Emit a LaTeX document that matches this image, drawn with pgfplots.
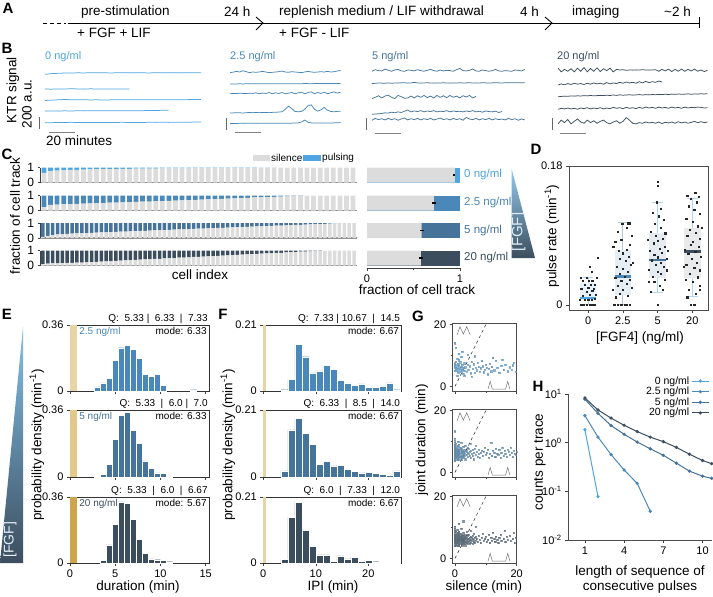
\documentclass[border=0pt]{standalone}
\usepackage{fontspec}
\setmainfont{Liberation Sans}
\usepackage{pgfplots}
\pgfplotsset{compat=1.18}
\usepackage{pgfplotstable}
\usepgfplotslibrary{statistics}
\definecolor{c0}{HTML}{4EA5DF}
\definecolor{c25}{HTML}{4A88B9}
\definecolor{c5}{HTML}{46739A}
\definecolor{c20}{HTML}{3C4E5E}
\definecolor{sil}{HTML}{DCDCDC}
\definecolor{tan1}{HTML}{E9D5A4}
\definecolor{tan2}{HTML}{E2C88A}
\definecolor{tan3}{HTML}{CFA44A}
\definecolor{ax}{HTML}{404040}
\newcommand\fL{\fontsize{13.5}{15}\selectfont}
\newcommand\fT{\fontsize{11}{12}\selectfont}
\newcommand\fS{\fontsize{10}{11}\selectfont}
\newcommand\fP{\fontsize{15}{17}\selectfont\bfseries}
\pgfplotsset{
 myax/.style={scale only axis, anchor=south west, axis line style={ax, line width=0.6pt},
   tick style={ax, line width=0.6pt}, tick align=outside, major tick length=3pt, minor tick length=2pt,
   tick label style={font=\fT}, /pgf/number format/assume math mode=true},
 tr/.style={line width=0.75pt},
}
\tikzset{gic/.style={black!55, line width=0.5pt}}
% ---------- B traces (t in min, signal in a.u. above each trace's own baseline)
\pgfplotstableread{
t a b c d e
0 -15 0 -8 0 -3
5 -5 -3 -2 2 0
10 0 2 3 -2 4
15 5 0 8 3 2
20 4 4 5 0 6
25 8 1 2 4 3
30 6 -2 4 2 5
35 10 3 1 5 2
40 7 0 3 3 4
45 9 2 0 6 3
50 6 -1 2 4 5
55 8 2 4 3 4
60 10 1 3 5 6
65 7 0 5 4 3
70 9 nan 4 6 5
75 8 nan 6 5 4
80 6 nan 3 8 6
85 9 nan 5 6 5
90 7 nan 4 12 7
95 8 nan 6 10 5
100 10 nan 5 nan 8
105 7 nan 3 nan 6
110 9 nan 6 nan 8
115 8 nan 8 nan 10
120 10 nan 10 nan 12
}\Bz
\pgfplotstableread{
t a b c d e
0 0 0 0 0 0
2.5 8 2 5 2 2
5 20 0 2 5 0
7.5 10 3 8 3 3
10 30 1 5 0 2
12.5 15 4 3 5 5
15 0 2 10 8 3
17.5 10 3 5 5 4
20 5 2 15 10 2
22.5 10 5 0 5 5
25 20 3 10 8 3
27.5 10 4 5 10 4
30 0 2 20 5 5
32.5 5 5 0 10 3
35 10 4 15 12 5
37.5 15 3 5 15 4
40 25 5 20 20 6
42.5 10 4 0 60 5
45 5 6 10 110 4
47.5 15 5 20 70 6
50 10 4 0 25 8
52.5 5 6 15 20 10
55 0 5 25 25 25
57.5 10 7 0 60 55
60 20 6 20 115 20
62.5 10 5 30 130 10
65 5 7 0 60 8
67.5 10 6 20 30 10
70 15 8 5 50 6
72.5 10 7 25 90 8
75 20 6 0 45 10
77.5 10 8 15 25 8
80 15 7 30 20 10
82.5 25 8 10 25 12
85 35 10 25 30 15
}\Btf
\pgfplotstableread{
t a b c d e
0 0 0 0 0 0
2.5 25 5 20 5 30
5 10 10 45 10 10
7.5 5 8 10 15 25
10 35 5 40 25 5
12.5 15 12 55 20 30
15 0 6 20 35 10
17.5 20 10 0 25 25
20 30 8 50 40 0
22.5 5 12 30 30 20
25 0 15 5 50 35
27.5 20 8 10 70 5
30 15 10 40 40 25
32.5 5 20 10 55 10
35 25 12 45 45 30
37.5 10 8 20 60 5
40 0 10 50 40 25
42.5 15 15 15 55 10
45 30 10 40 45 30
47.5 10 8 10 60 5
50 0 12 50 40 20
52.5 20 10 20 50 35
55 5 14 45 45 10
57.5 15 10 15 60 25
60 10 8 50 40 5
62.5 0 12 20 55 30
65 25 10 40 45 10
67.5 45 14 10 50 25
70 10 10 45 40 0
72.5 5 12 25 55 45
75 15 15 50 45 20
77.5 35 10 10 60 10
80 5 12 35 40 30
82.5 0 10 nan 50 5
85 20 14 nan 35 25
87.5 10 12 nan 55 10
90 0 10 nan 45 30
92.5 10 12 nan 40 5
95 30 15 nan 50 25
97.5 5 12 nan 30 10
100 0 10 nan 45 20
102.5 10 14 nan nan 5
105 5 12 nan nan 30
107.5 0 15 nan nan 10
110 20 12 nan nan 25
112.5 15 14 nan nan 0
115 5 12 nan nan 20
117.5 30 16 nan nan 5
}\Bf
\pgfplotstableread{
t a b c d e
0 60 0 0 0 0
2.5 0 20 5 15 60
5 40 5 10 5 20
7.5 10 25 8 20 70
10 50 10 12 5 0
12.5 0 30 10 15 40
15 60 15 15 0 80
17.5 10 25 12 20 30
20 70 10 18 10 10
22.5 0 30 14 25 60
25 55 15 20 5 20
27.5 10 35 15 20 50
30 65 20 18 10 10
32.5 5 30 22 25 40
35 50 15 18 5 60
37.5 20 40 25 20 20
40 60 20 20 10 0
42.5 0 35 28 30 30
45 40 25 22 15 50
47.5 30 45 30 25 10
50 35 30 25 10 40
52.5 25 50 28 30 100
55 30 35 32 15 60
57.5 28 45 26 25 10
60 32 30 30 10 0
62.5 30 55 35 30 20
65 35 35 28 15 10
67.5 30 60 34 35 30
70 28 40 30 20 15
72.5 30 55 36 30 25
75 35 45 32 15 10
77.5 10 65 38 35 30
80 40 50 34 20 5
82.5 15 nan 40 30 25
85 45 nan 36 15 15
87.5 5 nan 42 35 30
90 40 nan 38 20 10
92.5 10 nan 44 30 35
95 45 nan 40 15 15
97.5 10 nan 42 35 30
100 40 nan 46 20 10
102.5 15 nan 40 30 25
105 45 nan 45 25 40
107.5 10 nan 42 35 20
110 30 nan 48 30 35
112.5 5 nan 44 20 20
115 25 nan 50 25 30
}\Btw
% ---------- C: pulsing fraction per cell
\pgfplotstableread[row sep=\\]{i p\\1 0.35\\2 0.22\\3 0.20\\4 0.18\\5 0.16\\6 0.15\\7 0.14\\8 0.13\\9 0.12\\10 0.11\\11 0.10\\12 0.10\\13 0.09\\14 0.09\\15 0.08\\16 0.08\\17 0.07\\18 0.07\\19 0.06\\20 0.06\\21 0.05\\22 0.05\\23 0.05\\24 0.04\\25 0.04\\26 0.04\\27 0.03\\28 0.03\\29 0.03\\30 0.02\\31 0.02\\32 0.02\\33 0.02\\34 0.01\\35 0.01\\36 0.01\\37 0\\38 0\\39 0\\40 0\\41 0\\42 0\\43 0\\44 0\\45 0\\46 0\\47 0\\48 0\\}\Ca
\pgfplotstableread[row sep=\\]{i p\\1 0.78\\2 0.62\\3 0.60\\4 0.58\\5 0.57\\6 0.55\\7 0.54\\8 0.52\\9 0.51\\10 0.50\\11 0.48\\12 0.47\\13 0.45\\14 0.44\\15 0.42\\16 0.41\\17 0.40\\18 0.38\\19 0.37\\20 0.35\\21 0.34\\22 0.32\\23 0.30\\24 0.29\\25 0.27\\26 0.25\\27 0.24\\28 0.22\\29 0.20\\30 0.19\\31 0.17\\32 0.15\\33 0.13\\34 0.12\\35 0.10\\36 0.09\\37 0.07\\38 0.06\\39 0.04\\40 0.03\\41 0\\42 0\\43 0\\44 0\\45 0\\46 0\\47 0\\48 0\\}\Cb
\pgfplotstableread[row sep=\\]{i p\\1 0.92\\2 0.85\\3 0.80\\4 0.76\\5 0.74\\6 0.72\\7 0.70\\8 0.69\\9 0.68\\10 0.67\\11 0.65\\12 0.64\\13 0.63\\14 0.62\\15 0.60\\16 0.59\\17 0.58\\18 0.57\\19 0.55\\20 0.54\\21 0.53\\22 0.52\\23 0.50\\24 0.49\\25 0.48\\26 0.47\\27 0.45\\28 0.44\\29 0.43\\30 0.42\\31 0.40\\32 0.39\\33 0.38\\34 0.37\\35 0.35\\36 0.34\\37 0.33\\38 0.32\\39 0.30\\40 0.29\\41 0.28\\42 0.27\\43 0.25\\44 0.24\\45 0.23\\46 0.22\\47 0.20\\48 0.19\\49 0.18\\50 0.17\\51 0.15\\52 0.14\\53 0.13\\54 0.12\\55 0.10\\56 0.09\\57 0.08\\58 0.07\\59 0.05\\60 0.04\\61 0.03\\62 0.02\\63 0\\64 0\\65 0\\}\Cc
\pgfplotstableread[row sep=\\]{i p\\1 0.90\\2 0.88\\3 0.86\\4 0.85\\5 0.84\\6 0.83\\7 0.82\\8 0.81\\9 0.80\\10 0.79\\11 0.77\\12 0.75\\13 0.74\\14 0.72\\15 0.71\\16 0.69\\17 0.67\\18 0.66\\19 0.64\\20 0.63\\21 0.61\\22 0.59\\23 0.58\\24 0.56\\25 0.55\\26 0.53\\27 0.51\\28 0.50\\29 0.48\\30 0.47\\31 0.45\\32 0.43\\33 0.42\\34 0.40\\35 0.39\\36 0.37\\37 0.35\\38 0.34\\39 0.32\\40 0.31\\41 0.29\\42 0.27\\43 0.26\\44 0.24\\45 0.23\\46 0.21\\47 0.19\\48 0.18\\49 0.16\\50 0.15\\51 0.13\\52 0.11\\53 0.10\\54 0.08\\55 0.07\\56 0.05\\57 0.03\\58 0.02\\59 0\\60 0\\61 0\\62 0\\63 0\\64 0\\65 0\\}\Cd
\begin{document}
\begin{tikzpicture}[x=1pt,y=1pt]
\path[use as bounding box] (0,0) rectangle (713,-597);
% ---------------- panel letters
\node[font=\fP] at (8,-8) {A};
\node[font=\fP] at (7,-48) {B};
\node[font=\fP] at (7,-154) {C};
\node[font=\fP] at (536,-149) {D};
\node[font=\fP] at (7,-314) {E};
\node[font=\fP] at (223,-314) {F};
\node[font=\fP] at (418,-316) {G};
\node[font=\fP] at (538,-386) {H};
% ---------------- A timeline
\draw[line width=0.9pt, dash pattern=on 4pt off 3pt] (43,-23) -- (66,-23);
\draw[line width=0.9pt] (68,-23) -- (699,-23);
\draw[line width=0.9pt] (699,-17) -- (699,-28);
\draw[line width=0.9pt] (256,-17) -- (263,-23) -- (256,-30);
\draw[line width=0.9pt] (545,-17) -- (552,-23) -- (545,-30);
\begin{scope}[every node/.style={font=\fL, anchor=west, inner sep=0pt}]
\node at (81,-12) {pre-stimulation};
\node at (77,-33) {+ FGF + LIF};
\node at (224,-12) {24 h};
\node at (279,-12) {replenish medium / LIF withdrawal};
\node at (279,-33) {+ FGF - LIF};
\node at (520,-12) {4 h};
\node at (572,-12) {imaging};
\node at (664,-12) {\textasciitilde2 h};
\end{scope}
% ---------------- B traces
\node[font=\fL, rotate=90] at (13,-90) {KTR signal};
\node[font=\fL, rotate=90] at (27,-104) {200 a.u.};
\node[font=\fL, anchor=west, inner sep=0pt] at (46,-141) {20 minutes};
\node[font=\fT, text=c0, anchor=west, inner sep=0pt] at (45,-57) {0 ng/ml};
\node[font=\fT, text=c25, anchor=west, inner sep=0pt] at (230,-57) {2.5 ng/ml};
\node[font=\fT, text=c5, anchor=west, inner sep=0pt] at (372,-57) {5 ng/ml};
\node[font=\fT, text=c20, anchor=west, inner sep=0pt] at (557,-57) {20 ng/ml};
\begin{axis}[scale only axis, anchor=south west, width=156pt, height=75pt, at={(45pt,-132pt)}, xmin=0, xmax=120, ymin=0, ymax=1200, hide axis, clip=false, unbounded coords=jump]
\addplot[c0, tr] table[x=t, y expr=\thisrow{a}+939] {\Bz};
\addplot[c0, tr] table[x=t, y expr=\thisrow{b}+688] {\Bz};
\addplot[c0, tr] table[x=t, y expr=\thisrow{c}+512] {\Bz};
\addplot[c0, tr] table[x=t, y expr=\thisrow{d}+336] {\Bz};
\addplot[c0, tr] table[x=t, y expr=\thisrow{e}+149] {\Bz};
\draw[black!60, line width=0.9pt] (axis cs:-4.6,48) -- (axis cs:-4.6,248);
\draw[black!50, line width=0.9pt] (axis cs:3,-4) -- (axis cs:23,-4);
\end{axis}
\begin{axis}[scale only axis, anchor=south west, width=156pt, height=75pt, at={(230pt,-132pt)}, xmin=0, xmax=120, ymin=0, ymax=1200, hide axis, clip=false, unbounded coords=jump]
\addplot[c25, tr] table[x=t, y expr=\thisrow{a}+950] {\Btf};
\addplot[c25, tr] table[x=t, y expr=\thisrow{b}+768] {\Btf};
\addplot[c25, tr] table[x=t, y expr=\thisrow{c}+612] {\Btf};
\addplot[c25, tr] table[x=t, y expr=\thisrow{d}+304] {\Btf};
\addplot[c25, tr] table[x=t, y expr=\thisrow{e}+136] {\Btf};
\draw[black!60, line width=0.9pt] (axis cs:-3,32) -- (axis cs:-3,232);
\draw[black!50, line width=0.9pt] (axis cs:4,-4) -- (axis cs:24,-4);
\end{axis}
\begin{axis}[scale only axis, anchor=south west, width=156pt, height=75pt, at={(372pt,-132pt)}, xmin=0, xmax=120, ymin=0, ymax=1200, hide axis, clip=false, unbounded coords=jump]
\addplot[c5, tr] table[x=t, y expr=\thisrow{a}+972] {\Bf};
\addplot[c5, tr] table[x=t, y expr=\thisrow{b}+774] {\Bf};
\addplot[c5, tr] table[x=t, y expr=\thisrow{c}+535] {\Bf};
\addplot[c5, tr] table[x=t, y expr=\thisrow{d}+282] {\Bf};
\addplot[c5, tr] table[x=t, y expr=\thisrow{e}+188] {\Bf};
\draw[black!60, line width=0.9pt] (axis cs:-4,32) -- (axis cs:-4,232);
\draw[black!50, line width=0.9pt] (axis cs:2.3,-16) -- (axis cs:22.3,-16);
\end{axis}
\begin{axis}[scale only axis, anchor=south west, width=156pt, height=75pt, at={(558pt,-132pt)}, xmin=0, xmax=120, ymin=0, ymax=1200, hide axis, clip=false, unbounded coords=jump]
\addplot[c20, tr] table[x=t, y expr=\thisrow{a}+962] {\Btw};
\addplot[c20, tr] table[x=t, y expr=\thisrow{b}+750] {\Btw};
\addplot[c20, tr] table[x=t, y expr=\thisrow{c}+564] {\Btw};
\addplot[c20, tr] table[x=t, y expr=\thisrow{d}+364] {\Btw};
\addplot[c20, tr] table[x=t, y expr=\thisrow{e}+130] {\Btw};
\draw[black!60, line width=0.9pt] (axis cs:-4,32) -- (axis cs:-4,232);
\draw[black!50, line width=0.9pt] (axis cs:1.5,-16) -- (axis cs:21.5,-16);
\end{axis}
% ---------------- C left
\node[font=\fL, rotate=90] at (15,-216) {fraction of cell track};
\node[font=\fL] at (200,-275) {cell index};
\fill[sil] (253,-155) rectangle (270,-161);
\node[font=\fS, anchor=west, inner sep=1pt] at (270,-157.5) {silence};
\fill[c0] (303,-155) rectangle (321,-161);
\node[font=\fS, anchor=west, inner sep=1pt] at (321,-157.5) {pulsing};
\pgfplotsset{crow/.style={myax, width=317pt, height=15pt, ymin=0, ymax=1, ytick={0,1}, yticklabels={0,1}, xtick=\empty, axis x line*=bottom, axis y line*=left, x axis line style={black!45, line width=1.2pt}, ybar stacked, bar width=0.72, yticklabel style={font=\fontsize{12}{12}\selectfont}, major tick length=2.5pt}}
\begin{axis}[crow, at={(40pt,-182.5pt)}, xmin=0.4, xmax=48.6]
\addplot[fill=sil, draw=none] table[x=i, y expr=1-\thisrow{p}] {\Ca};
\addplot[fill=c0, draw=none] table[x=i, y=p] {\Ca};
\end{axis}
\begin{axis}[crow, at={(40pt,-210.5pt)}, xmin=0.4, xmax=48.6]
\addplot[fill=sil, draw=none] table[x=i, y expr=1-\thisrow{p}] {\Cb};
\addplot[fill=c25, draw=none] table[x=i, y=p] {\Cb};
\end{axis}
\begin{axis}[crow, at={(40pt,-238pt)}, xmin=0.4, xmax=65.6]
\addplot[fill=sil, draw=none] table[x=i, y expr=1-\thisrow{p}] {\Cc};
\addplot[fill=c5, draw=none] table[x=i, y=p] {\Cc};
\end{axis}
\begin{axis}[crow, at={(40pt,-265.5pt)}, xmin=0.4, xmax=65.6]
\addplot[fill=sil, draw=none] table[x=i, y expr=1-\thisrow{p}] {\Cd};
\addplot[fill=c20, draw=none] table[x=i, y=p] {\Cd};
\end{axis}
% ---------------- C right
\begin{axis}[myax, at={(367pt,-268pt)}, width=93pt, height=103pt, xmin=0, xmax=1, ymin=-268, ymax=-165,
  axis x line*=bottom, axis y line=none, xtick={0,1}, xticklabels={0,1}, minor xtick={0.5}, clip=false]
\addplot[xbar, bar shift=0pt, bar width=15, fill=c0, draw=none] coordinates {(1,-175)};
\addplot[xbar, bar shift=0pt, bar width=15, fill=c25, draw=none] coordinates {(1,-203)};
\addplot[xbar, bar shift=0pt, bar width=15, fill=c5, draw=none] coordinates {(1,-230.5)};
\addplot[xbar, bar shift=0pt, bar width=15, fill=c20, draw=none] coordinates {(1,-258)};
\addplot[xbar, bar shift=0pt, bar width=15, fill=sil, draw=none] coordinates {(0.946,-175) (0.72,-203) (0.588,-230.5) (0.58,-258)};
\addplot[draw=none, mark=none, error bars/.cd, x dir=both, x explicit, error mark=none, error bar style={black, line width=1.8pt}] coordinates {(0.935,-175) +- (0.008,0) (0.72,-203) +- (0.022,0) (0.588,-230.5) +- (0.022,0) (0.58,-258) +- (0.022,0)};
\end{axis}
\node[font=\fL] at (417,-290) {fraction of cell track};
\begin{scope}[every node/.style={font=\fontsize{11.5}{12}\selectfont, anchor=west, inner sep=0pt}]
\node[text=c0] at (464,-175) {0 ng/ml};
\node[text=c25] at (464,-203) {2.5 ng/ml};
\node[text=c5] at (464,-230.5) {5 ng/ml};
\node[text=c20] at (464,-258) {20 ng/ml};
\end{scope}
\shade[top color=c0!60, bottom color=c20] (511.7,-169) -- (511.7,-258) -- (535,-258) -- cycle;
\node[font=\fontsize{15}{16}\selectfont, rotate=90, text=white!80!c0] at (518.5,-232) {[FGF]};
% ---------------- D
\node[font=\fL, rotate=90] at (552,-236) {pulse rate (min\textsuperscript{-1})};
\node[font=\fL] at (640,-338) {[FGF4] (ng/ml)};
\begin{axis}[myax, at={(569pt,-310pt)}, width=139pt, height=144pt, xmin=-0.55, xmax=3.45, ymin=-0.0065, ymax=0.18,
  xtick={0,1,2,3}, xticklabels={0,2.5,5,20}, ytick={0,0.18}, yticklabels={0,0.18}, xtick pos=left, ytick pos=left, axis line style={black!70},
  boxplot/draw direction=y]
\addplot[boxplot prepared={draw position=0, lower whisker=0, lower quartile=0.0065, median=0.009, upper quartile=0.0285, upper whisker=0.035, box extend=0.48, whisker extend=0.3, every box/.style={fill=c0!14, draw=none}, every median/.style={draw=c0, line width=2.6pt}, every whisker/.style={c0!45, line width=1pt}}] coordinates {};
\addplot[boxplot prepared={draw position=1, lower whisker=0, lower quartile=0.013, median=0.0367, upper quartile=0.071, upper whisker=0.1066, box extend=0.48, whisker extend=0.3, every box/.style={fill=c25!14, draw=none}, every median/.style={draw=c25, line width=2.6pt}, every whisker/.style={c25!45, line width=1pt}}] coordinates {};
\addplot[boxplot prepared={draw position=2, lower whisker=0.0164, lower quartile=0.0346, median=0.0583, upper quartile=0.0937, upper whisker=0.133, box extend=0.48, whisker extend=0.3, every box/.style={fill=c5!14, draw=none}, every median/.style={draw=c5, line width=2.6pt}, every whisker/.style={c0!45, line width=1pt}}] coordinates {};
\addplot[boxplot prepared={draw position=3, lower whisker=0.0107, lower quartile=0.035, median=0.069, upper quartile=0.1, upper whisker=0.138, box extend=0.48, whisker extend=0.3, every box/.style={fill=c20!12, draw=none}, every median/.style={draw=c20, line width=2.6pt}, every whisker/.style={c0!45, line width=1pt}}] coordinates {};
\addplot[only marks, mark=square*, mark size=0.6pt, black!85] coordinates {
(-0.2,0) (-0.12,0) (-0.05,0) (0.05,0) (0.12,0) (0.2,0) (-0.18,0) (0.15,0) (-0.25,0.007) (-0.1,0.007) (0,0.007) (0.1,0.007) (0.18,0.008) (-0.15,0.012) (0.05,0.013) (0.22,0.013) (-0.05,0.017) (0.12,0.018) (-0.2,0.021) (0,0.022) (0.15,0.021) (-0.1,0.026) (0.08,0.026) (0.2,0.026) (-0.15,0.031) (0.02,0.031) (0.12,0.031) (-0.05,0.035) (0.1,0.043) (0.28,0.061) (-0.22,0.035) (0.25,0.035) (0.05,0.05)
(0.75,0) (0.85,0) (0.95,0) (1.05,0) (1.12,0) (1.2,0) (0.8,0.01) (1.15,0.012) (0.9,0.015) (1,0.02) (1.25,0.022) (0.85,0.025) (1.1,0.028) (0.95,0.031) (1.2,0.033) (0.78,0.035) (1.05,0.037) (0.9,0.04) (1.15,0.043) (1,0.047) (0.82,0.05) (1.22,0.052) (1.08,0.057) (0.92,0.06) (1.17,0.063) (1,0.067) (0.88,0.07) (1.1,0.072) (0.72,0.075) (1.2,0.078) (0.95,0.085) (1.25,0.09) (0.85,0.095) (1.1,0.1) (0.98,0.105) (1.2,0.106) (1.15,0.106) (0.78,0.082) (1.28,0.055) (0.7,0.02)
(2,0) (1.8,0.017) (2.15,0.02) (2.05,0.025) (1.9,0.03) (2.2,0.033) (1.85,0.037) (2.1,0.04) (2,0.043) (1.75,0.046) (2.18,0.05) (1.95,0.052) (2.08,0.055) (1.82,0.058) (2.25,0.06) (2,0.062) (1.9,0.065) (2.12,0.068) (1.78,0.07) (2.05,0.073) (2.2,0.076) (1.88,0.08) (2,0.083) (2.15,0.086) (1.95,0.09) (2.22,0.093) (1.8,0.095) (2.08,0.1) (1.92,0.105) (2.18,0.11) (2.02,0.115) (1.85,0.12) (2.1,0.125) (1.97,0.133) (2,0.16) (2,0.155) (1.75,0.03) (2.25,0.045) (1.72,0.085) (2.28,0.07)
(2.95,0) (3.05,0) (2.85,0.01) (3.1,0.015) (2.9,0.02) (3.2,0.025) (3,0.03) (2.8,0.033) (3.15,0.036) (2.92,0.04) (3.22,0.045) (3.05,0.048) (2.82,0.052) (3.12,0.055) (2.98,0.06) (3.25,0.063) (2.88,0.066) (3.08,0.069) (2.78,0.072) (3.18,0.075) (2.95,0.078) (3.02,0.082) (3.2,0.086) (2.85,0.09) (3.1,0.094) (2.92,0.098) (3.15,0.102) (3,0.108) (2.82,0.112) (3.2,0.118) (3.05,0.123) (2.9,0.128) (3.12,0.133) (2.95,0.138) (3.18,0.14) (2.85,0.142) (3.08,0.145) (3.22,0.02) (2.75,0.05) (3.28,0.1)};
\end{axis}
% ---------------- E
\shade[top color=c0!70, bottom color=c20] (23,-327) -- (23,-563) -- (0,-563) -- cycle;
\node[font=\fontsize{14}{15}\selectfont, rotate=90, text=white!85!c0] at (10,-540) {[FGF]};
\node[font=\fL, rotate=90] at (37,-445) {probability density (min\textsuperscript{-1})};
\node[font=\fL] at (138,-587) {duration (min)};
\pgfplotsset{hist/.style={myax, xtick pos=left, ytick pos=left, axis line style={black!80}, clip=false}}
\begin{axis}[hist, at={(70pt,-391pt)}, width=139.3pt, height=66pt, xmin=0, xmax=15.4, ymin=0, ymax=0.36, ytick={0,0.36}, yticklabels={0,0.36}, xtick={0,5,10,15}, xticklabels={}]
\addplot[fill=tan1, draw=none] coordinates {(0,0) (0.74,0) (0.74,0.36) (0,0.36)} -- cycle;
\addplot[ybar, bar width=0.667, bar shift=0pt, fill=c25, draw=white, line width=0.4pt] coordinates {(3,0.022) (3.667,0.044) (4.333,0.068) (5,0.168) (5.667,0.236) (6.333,0.25) (7,0.227) (7.667,0.177) (8.333,0.091) (9,0.08) (9.667,0.091) (10.333,0.031) (13.667,0.007)};
\node[font=\fS, anchor=south east, inner sep=1.5pt] at (rel axis cs:1,1) {Q:~~5.33 |~~6.33~~|~~7.33};
\node[font=\fS, anchor=north east, inner sep=2.5pt] at (rel axis cs:1,1) {mode: 6.33};
\node[font=\fS, text=c25, anchor=north west, inner sep=2.5pt] at (axis cs:0.74,0.36) {2.5 ng/ml};
\end{axis}
\begin{axis}[hist, at={(70pt,-477pt)}, width=139.3pt, height=67pt, xmin=0, xmax=15.4, ymin=0, ymax=0.36, ytick={0,0.36}, yticklabels={0,0.36}, xtick={0,5,10,15}, xticklabels={}]
\addplot[fill=tan2, draw=none] coordinates {(0,0) (0.74,0) (0.74,0.36) (0,0.36)} -- cycle;
\addplot[ybar, bar width=0.667, bar shift=0pt, fill=c5, draw=white, line width=0.4pt] coordinates {(3,0.004) (3.667,0.014) (4.333,0.068) (5,0.202) (5.667,0.333) (6.333,0.346) (7,0.252) (7.667,0.18) (8.333,0.086) (9,0.045) (9.667,0.022) (10.333,0.018) (11,0.005)};
\node[font=\fS, anchor=south east, inner sep=1.5pt] at (rel axis cs:1,1) {Q:~~5.33~~|~~6.0 |~~7.0};
\node[font=\fS, anchor=north east, inner sep=2.5pt] at (rel axis cs:1,1) {mode: 6.33};
\node[font=\fS, text=c5, anchor=north west, inner sep=2.5pt] at (axis cs:0.74,0.36) {5 ng/ml};
\end{axis}
\begin{axis}[hist, at={(70pt,-563pt)}, width=139.3pt, height=66pt, xmin=0, xmax=15.4, ymin=0, ymax=0.36, ytick={0,0.36}, yticklabels={0,0.36}, xtick={0,5,10,15}, xticklabels={0,5,10,15}]
\addplot[fill=tan3, draw=none] coordinates {(0,0) (0.74,0) (0.74,0.36) (0,0.36)} -- cycle;
\addplot[ybar, bar width=0.667, bar shift=0pt, fill=c20, draw=white, line width=0.4pt] coordinates {(3.667,0.013) (4.333,0.099) (5,0.212) (5.667,0.333) (6.333,0.324) (7,0.238) (7.667,0.13) (8.333,0.054) (9,0.022) (9.667,0.018) (10.333,0.014) (11,0.007)};
\node[font=\fS, anchor=south east, inner sep=1.5pt] at (rel axis cs:1,1) {Q:~~5.33~~|~~6.0~~|~~6.67};
\node[font=\fS, anchor=north east, inner sep=2.5pt] at (rel axis cs:1,1) {mode: 5.67};
\node[font=\fS, text=c20, anchor=north west, inner sep=2.5pt] at (axis cs:0.74,0.36) {20 ng/ml};
\end{axis}
% ---------------- F
\node[font=\fL, rotate=90] at (228,-445) {probability density (min\textsuperscript{-1})};
\node[font=\fL] at (333,-587) {IPI (min)};
\begin{axis}[hist, at={(263.3pt,-391pt)}, width=138.4pt, height=66pt, xmin=0, xmax=26.35, ymin=0, ymax=0.21, ytick={0,0.21}, yticklabels={0,0.21}, xtick={0,10,20}, xticklabels={}]
\addplot[fill=tan1, draw=none] coordinates {(0,0) (0.5,0) (0.5,0.21) (0,0.21)} -- cycle;
\addplot[ybar, bar width=1.333, bar shift=0pt, fill=c25, draw=white, line width=0.4pt] coordinates {(4,0.004) (5.333,0.036) (6.667,0.148) (8,0.109) (9.333,0.058) (10.667,0.064) (12,0.082) (13.333,0.069) (14.667,0.034) (16,0.026) (17.333,0.018) (18.667,0.023) (20,0.011) (21.333,0.011) (22.667,0.015) (24,0.026) (25.333,0.004)};
\node[font=\fS, anchor=south east, inner sep=1.5pt] at (rel axis cs:1,1) {Q:~~7.33 | 10.67~~|~~14.5};
\node[font=\fS, anchor=north east, inner sep=2.5pt] at (rel axis cs:1,1) {mode: 6.67};
\end{axis}
\begin{axis}[hist, at={(263.3pt,-477pt)}, width=138.4pt, height=67pt, xmin=0, xmax=26.35, ymin=0, ymax=0.21, ytick={0,0.21}, yticklabels={0,0.21}, xtick={0,10,20}, xticklabels={}]
\addplot[fill=tan1, draw=none] coordinates {(0,0) (0.5,0) (0.5,0.21) (0,0.21)} -- cycle;
\addplot[ybar, bar width=1.333, bar shift=0pt, fill=c5, draw=white, line width=0.4pt] coordinates {(4,0.019) (5.333,0.148) (6.667,0.183) (8,0.137) (9.333,0.102) (10.667,0.04) (12,0.048) (13.333,0.035) (14.667,0.037) (16,0.024) (17.333,0.017) (18.667,0.013) (20,0.014) (21.333,0.011) (22.667,0.008) (24,0.006) (25.333,0.019)};
\node[font=\fS, anchor=south east, inner sep=1.5pt] at (rel axis cs:1,1) {Q:~~6.33~~|~~8.5~~|~~14.0};
\node[font=\fS, anchor=north east, inner sep=2.5pt] at (rel axis cs:1,1) {mode: 6.67};
\end{axis}
\begin{axis}[hist, at={(263.3pt,-563pt)}, width=138.4pt, height=66pt, xmin=0, xmax=26.35, ymin=0, ymax=0.21, ytick={0,0.21}, yticklabels={0,0.21}, xtick={0,10,20}, xticklabels={0,10,20}]
\addplot[fill=tan1, draw=none] coordinates {(0,0) (0.5,0) (0.5,0.21) (0,0.21)} -- cycle;
\addplot[ybar, bar width=1.333, bar shift=0pt, fill=c20, draw=white, line width=0.4pt] coordinates {(4,0.011) (5.333,0.145) (6.667,0.194) (8,0.105) (9.333,0.0525) (10.667,0.026) (12,0.026) (13.333,0.006) (14.667,0.023) (16,0.013) (17.333,0.019) (18.667,0.005) (20,0.008) (21.333,0.004) (22.667,0.002) (24,0.002) (25.333,0.001)};
\node[font=\fS, anchor=south east, inner sep=1.5pt] at (rel axis cs:1,1) {Q:~~6.0~~|~~7.33~~|~~12.0};
\node[font=\fS, anchor=north east, inner sep=2.5pt] at (rel axis cs:1,1) {mode: 6.67};
\end{axis}
% ---------------- G
\node[font=\fL, rotate=90] at (422,-440) {joint duration (min)};
\node[font=\fL] at (484,-587) {silence (min)};
\pgfplotsset{gax/.style={myax, width=64pt, height=68pt, xmin=-0.75, xmax=20, ymin=-1.5, ymax=20.5, xtick={0,20}, ytick={0,20}, minor xtick={10}, minor ytick={10}, xtick pos=left, ytick pos=left, axis line style={black!70}}}
\begin{axis}[gax, at={(452.7pt,-391pt)}, xticklabels={}]
\addplot[only marks, mark=square*, mark size=0.65pt, c25!85, opacity=0.75] coordinates {(0,5) (0,6) (0,7) (0,7.5) (0,6.5) (0.3,5.5) (0.3,8) (0.3,6) (0.7,5) (0.7,7) (0.7,9) (0.7,6.2) (1,5.8) (1,7.3) (1,4.5) (1.3,6.7) (1.3,8.5) (1.7,5.2) (1.7,6.1) (1.7,7.8) (2,4.7) (2,6.4) (2,9.5) (2.3,5.5) (2.3,7) (2.7,4.2) (2.7,6) (3,5) (3,7.5) (3,3.5) (3.3,6.2) (3.7,4.8) (4,7) (4.3,5.5) (4.7,6.5) (5,4.3) (5.3,8) (5.7,5.8) (6,7.2) (6.3,4.5) (6.7,6) (7,5.2) (7.3,7.7) (7.7,6.3) (8,4.8) (8.3,5.9) (8.7,8.2) (9,6.5) (9.3,4.6) (9.7,5.4) (10,7) (10.3,6.1) (10.7,3.9) (11,5.7) (11.3,7.3) (11.7,4.9) (12,6.3) (12.7,5.2) (13.3,8.4) (13.7,6) (14.3,4.4) (15,6.7) (15.7,5.3) (16.3,7.1) (17,4.9) (17.7,6.2) (18.3,5.5) (19,7.6) (19.7,4.7) (0,14) (0.3,12.5) (1.3,10.5) (2.3,11.2) (4,10.3) (6.3,9.8) (0.7,3.4) (5.3,3.2) (12.3,9.2) (15.3,8.6) (18.7,6.8)};
\addplot[black!75, dashed, line width=0.6pt] coordinates {(0,0) (10,20)};
\draw[gic] (axis cs:0.7,16.7) -- (axis cs:1.6,19.3) -- (axis cs:2.7,16.9) -- (axis cs:3.8,19.3) -- (axis cs:4.9,16.7);
\draw[gic] (axis cs:10.7,-0.9) -- (axis cs:11.4,1.6) -- (axis cs:12.1,-0.9) -- (axis cs:16.4,-0.9) -- (axis cs:17.1,1.6) -- (axis cs:17.8,-0.9);
\end{axis}
\begin{axis}[gax, at={(452.7pt,-477pt)}, xticklabels={}]
\addplot[only marks, mark=square*, mark size=0.65pt, c5!85, opacity=0.7] coordinates {(0,3.7) (0,4.3) (0,5) (0,5.3) (0,5.7) (0,6) (0,6.3) (0,6.7) (0,7) (0,7.3) (0,7.7) (0,8) (0,8.3) (0,8.7) (0,9) (0,9.7) (0,10.3) (0,11) (0,13.3) (0.3,4.7) (0.3,5.3) (0.3,6) (0.3,6.7) (0.3,7.3) (0.3,8) (0.3,9.3) (0.7,4.3) (0.7,5) (0.7,5.7) (0.7,6.3) (0.7,7) (0.7,7.7) (0.7,8.7) (1,4) (1,5.3) (1,6) (1,6.7) (1,7.3) (1,8.3) (1,10) (1.3,4.7) (1.3,5.7) (1.3,6.3) (1.3,7) (1.3,9) (1.7,5) (1.7,6) (1.7,7.3) (1.7,8) (2,4.3) (2,5.3) (2,6.7) (2,7.7) (2,9.7) (2.3,5) (2.3,6.3) (2.3,7) (2.7,4.7) (2.7,5.7) (2.7,6.7) (2.7,8.3) (3,5.3) (3,6) (3,7.3) (3.3,4.3) (3.3,6.7) (3.3,8.7) (3.7,5.7) (3.7,7) (4,5) (4,6.3) (4,8) (4.3,6) (4.3,7.7) (4.7,5.3) (4.7,6.7) (5,4.7) (5,7) (5,9.3) (5.3,6) (5.7,5.3) (5.7,7.3) (6,6.3) (6,4.3) (6.3,7.7) (6.7,5.7) (6.7,8.7) (7,6.7) (7.3,5) (7.7,6) (7.7,7.3) (8,4.7) (8.3,6.3) (8.7,7) (9,5.3) (9.3,6.7) (9.7,8) (10,5.7) (10.3,6.3) (10.7,7.3) (11,4.7) (11.3,6) (11.7,9.7) (12,5.3) (12.3,7) (12.7,6.3) (13,5) (13.3,7.7) (13.7,6) (14,5.7) (14.3,7.3) (14.7,4.7) (15,6.3) (15.3,8) (15.7,5.3) (16,7) (16.3,6) (16.7,5) (17,7.3) (17.3,6.7) (17.7,5.7) (18,8) (18.3,6.3) (18.7,5) (19,7) (19.3,6) (19.7,5.7) (20,6.7)};
\addplot[black!75, dashed, line width=0.6pt] coordinates {(0,0) (10,20)};
\draw[gic] (axis cs:0.7,16.7) -- (axis cs:1.6,19.3) -- (axis cs:2.7,16.9) -- (axis cs:3.8,19.3) -- (axis cs:4.9,16.7);
\draw[gic] (axis cs:10.7,-0.9) -- (axis cs:11.4,1.6) -- (axis cs:12.1,-0.9) -- (axis cs:16.4,-0.9) -- (axis cs:17.1,1.6) -- (axis cs:17.8,-0.9);
\end{axis}
\begin{axis}[gax, at={(452.7pt,-563pt)}, xticklabels={0,20}]
\addplot[only marks, mark=square*, mark size=0.65pt, c20!85, opacity=0.7] coordinates {(0,4) (0,4.7) (0,5.3) (0,5.7) (0,6) (0,6.3) (0,6.7) (0,7) (0,7.3) (0,7.7) (0,8.3) (0,9) (0,9.7) (0,10.3) (0.3,4.3) (0.3,5) (0.3,5.7) (0.3,6.3) (0.3,7) (0.3,7.7) (0.3,8.7) (0.7,4.7) (0.7,5.3) (0.7,6) (0.7,6.7) (0.7,7.3) (0.7,8) (0.7,9.3) (1,4) (1,5) (1,5.7) (1,6.3) (1,7) (1,7.7) (1,8.3) (1.3,4.3) (1.3,5.3) (1.3,6) (1.3,6.7) (1.3,7.3) (1.3,8.7) (1.3,11.3) (1.7,4.7) (1.7,5.7) (1.7,6.3) (1.7,7) (1.7,8) (2,5) (2,5.7) (2,6.3) (2,7) (2,7.7) (2,9.7) (2.3,4.3) (2.3,5.3) (2.3,6) (2.3,6.7) (2.3,7.3) (2.7,4.7) (2.7,5.7) (2.7,6.3) (2.7,7.3) (2.7,8.3) (2.7,12) (3,5) (3,6) (3,6.7) (3,7.7) (3.3,4.3) (3.3,5.3) (3.3,6.3) (3.3,7) (3.7,5) (3.7,5.7) (3.7,6.7) (3.7,8.7) (4,4.7) (4,6) (4,7.3) (4.3,5.3) (4.3,6.3) (4.3,7.7) (4.7,4.7) (4.7,5.7) (4.7,6.7) (5,5) (5,6) (5,7) (5,9) (5.3,5.7) (5.3,6.7) (5.7,4.7) (5.7,6.3) (5.7,7.3) (6,5.3) (6,6) (6,8) (6.3,5) (6.3,6.7) (6.7,5.7) (6.7,7) (6.7,10.3) (7,6.3) (7.3,5.3) (7.7,7.3) (8,6) (8.3,5) (8.7,6.7) (9,8) (9.3,5.7) (9.7,6.3) (10,7) (10.3,5.3) (10.7,6) (11,7.7) (11.3,5) (11.7,6.7) (12,5.7) (12.3,8.3) (12.7,6.3) (13,5.3) (13.3,7) (13.7,6) (14,5) (14.3,6.7) (14.7,7.7) (15,5.7) (15.7,6.3) (16,9) (16.3,5.3) (16.7,7) (17,6) (17.7,7.3) (18,5.7) (18.7,6.3) (19,8.3) (19.3,5) (19.7,6.7)};
\addplot[black!75, dashed, line width=0.6pt] coordinates {(0,0) (10,20)};
\draw[gic] (axis cs:0.7,16.7) -- (axis cs:1.6,19.3) -- (axis cs:2.7,16.9) -- (axis cs:3.8,19.3) -- (axis cs:4.9,16.7);
\draw[gic] (axis cs:10.7,-0.9) -- (axis cs:11.4,1.6) -- (axis cs:12.1,-0.9) -- (axis cs:16.4,-0.9) -- (axis cs:17.1,1.6) -- (axis cs:17.8,-0.9);
\end{axis}
% ---------------- H
\node[font=\fL, rotate=90] at (540,-462) {counts per trace};
\node[font=\fL, align=center] at (640,-580) {length of sequence of\\consecutive pulses};
\begin{axis}[myax, at={(568.3pt,-540pt)}, width=143.4pt, height=146pt, ymode=log, xmin=-0.27, xmax=10.7, ymin=0.01, ymax=10,
  xtick={1,4,7,10}, ytick={0.01,0.1,1,10}, yticklabels={10\textsuperscript{-2},10\textsuperscript{-1},10\textsuperscript{0},10\textsuperscript{1}},
  axis x line*=bottom, axis y line*=left, yminorticks=false, axis line style={black!70},
  legend style={at={(0.985,1.135)}, anchor=north east, draw=none, fill=none, font=\fontsize{10.5}{10}\selectfont, inner sep=0pt, row sep=-2.5pt},
  legend cell align=right, legend plot pos=right]
\addplot[c0, line width=1pt, mark=*, mark size=1.1pt] coordinates {(1,1.85) (2,0.078)};
\addplot[c25, line width=1pt, mark=*, mark size=1.1pt] coordinates {(1,3.6) (2,1.3) (3,0.57) (4,0.275) (5,0.146) (6,0.039)};
\addplot[c5, line width=1pt, mark=*, mark size=1.1pt] coordinates {(1,7.8) (2,4) (3,2.25) (4,1.49) (5,1.03) (6,0.75) (7,0.55) (8,0.38) (9,0.26) (10,0.205) (10.7,0.185)};
\addplot[c20, line width=1pt, mark=*, mark size=1.1pt] coordinates {(1,8.3) (2,4.7) (3,3.2) (4,2.28) (5,1.69) (6,1.3) (7,1.05) (8,0.8) (9,0.58) (10,0.43) (10.7,0.37)};
\legend{0 ng/ml, 2.5 ng/ml, 5 ng/ml, 20 ng/ml}
\end{axis}
\end{tikzpicture}
\end{document}
